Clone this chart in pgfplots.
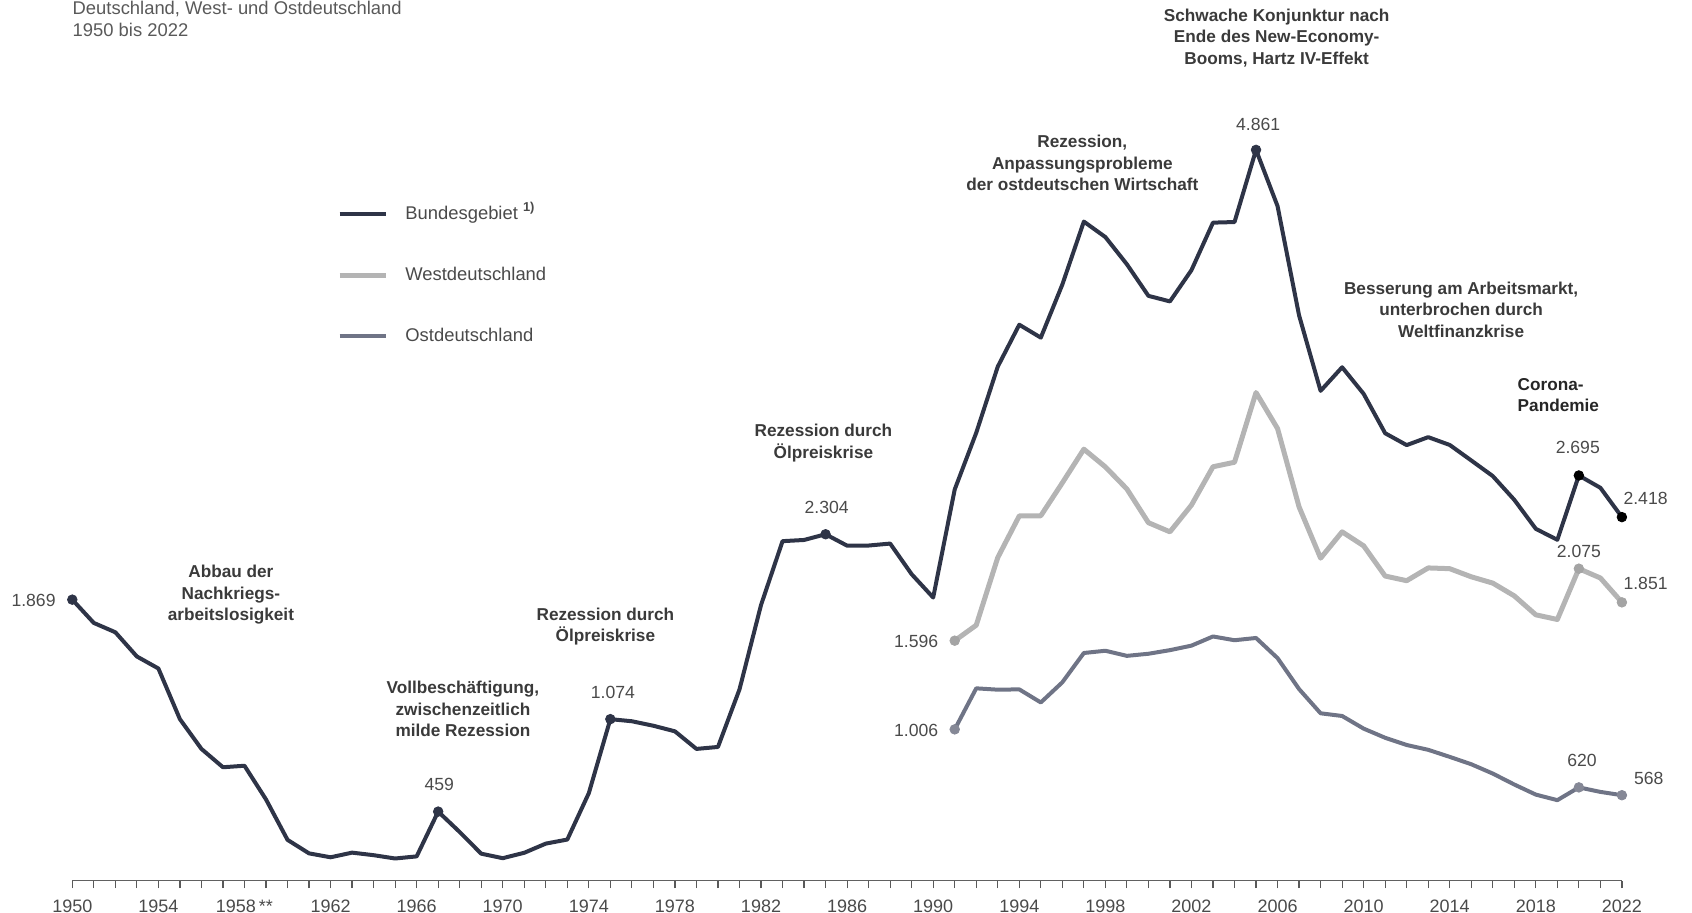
\documentclass[border=0pt]{standalone}
\usepackage{fontspec}
\setmainfont{Liberation Sans}
\usepackage{pgfplots}
\pgfplotsset{compat=1.18}

\definecolor{bund}{HTML}{2E3447}
\definecolor{west}{HTML}{B4B4B4}
\definecolor{ost}{HTML}{6F7486}
\definecolor{westdot}{HTML}{A4A4A4}
\definecolor{ostdot}{HTML}{858896}
\definecolor{txt}{HTML}{3A3A3A}
\definecolor{num}{HTML}{4A4A4A}

\newcommand{\annfont}{\bfseries\fontsize{8.6}{10.7}\selectfont}
\newcommand{\numfont}{\fontsize{8.8}{10}\selectfont}

\begin{document}
\begin{tikzpicture}
\useasboundingbox (-36.15pt,-16.2pt) rectangle (809.85pt,440.3pt);
\begin{axis}[
  scale only axis, width=774.8pt, height=375.8pt,
  xmin=1950, xmax=2022, ymin=0, ymax=5000,
  axis x line=bottom, axis y line=none,
  axis line style={draw=black!62, line width=0.7pt, -},
  xtick={1950,1954,...,2022},
  minor xtick={1950,1951,...,2022},
  xticklabels={1950,1954,1958\,**,1962,1966,1970,1974,1978,1982,1986,1990,1994,1998,2002,2006,2010,2014,2018,2022},
  tick align=outside, major tick length=3.8pt, minor tick length=3.8pt,
  every tick/.style={draw=black!65, line width=0.6pt},
  minor tick style={draw=black!65, line width=0.6pt},
  xticklabel style={font=\fontsize{9}{10}\selectfont, text=num, inner sep=1pt, yshift=-4.6pt},
  /pgf/number format/assume math mode=true,
  clip=false,
  legend cell align=left,
  legend image code/.code={\draw[#1] (0pt,0pt) -- (23pt,0pt);},
  legend style={at={(axis cs:1962.29,4495)}, anchor=north west, draw=none, fill=none,
    inner sep=0pt, row sep=21.5pt, font=\fontsize{9.2}{10}\selectfont, text=num,
    nodes={inner sep=0pt, text height=7pt, text depth=2pt},
    /tikz/every odd column/.style={column sep=8.6pt}},
]
% Bundesgebiet (1950-1990 West, from 1991 unified Germany)
\addplot[bund, line width=2pt, line join=round] coordinates {
(1950,1869) (1951,1714) (1952,1652) (1953,1491) (1954,1411) (1955,1074)
(1956,876) (1957,754) (1958,764) (1959,540) (1960,271) (1961,181)
(1962,155) (1963,186) (1964,169) (1965,147) (1966,161) (1967,459)
(1968,323) (1969,179) (1970,149) (1971,185) (1972,246) (1973,273)
(1974,582) (1975,1074) (1976,1060) (1977,1030) (1978,993) (1979,876)
(1980,889) (1981,1272) (1982,1833) (1983,2258) (1984,2266) (1985,2304)
(1986,2228) (1987,2229) (1988,2242) (1989,2038) (1990,1883) (1991,2602)
(1992,2979) (1993,3419) (1994,3698) (1995,3612) (1996,3965) (1997,4384)
(1998,4281) (1999,4100) (2000,3890) (2001,3853) (2002,4061) (2003,4377)
(2004,4381) (2005,4861) (2006,4487) (2007,3760) (2008,3258) (2009,3415)
(2010,3238) (2011,2976) (2012,2897) (2013,2950) (2014,2898) (2015,2795)
(2016,2691) (2017,2533) (2018,2340) (2019,2267) (2020,2695) (2021,2613)
(2022,2418)};
\addlegendentry{Bundesgebiet \textsuperscript{\textbf{1)}}}
% Westdeutschland
\addplot[west, line width=2.5pt, line join=round] coordinates {
(1991,1596) (1992,1699) (1993,2149) (1994,2426) (1995,2427) (1996,2646)
(1997,2870) (1998,2752) (1999,2605) (2000,2381) (2001,2320) (2002,2498)
(2003,2753) (2004,2783) (2005,3247) (2006,3007) (2007,2486) (2008,2145)
(2009,2320) (2010,2227) (2011,2026) (2012,1995) (2013,2080) (2014,2075)
(2015,2021) (2016,1979) (2017,1894) (2018,1768) (2019,1737) (2020,2075)
(2021,2013) (2022,1851)};
\addlegendentry{Westdeutschland}
% Ostdeutschland
\addplot[ost, line width=2pt, line join=round] coordinates {
(1991,1006) (1992,1279) (1993,1270) (1994,1272) (1995,1185) (1996,1319)
(1997,1514) (1998,1529) (1999,1495) (2000,1509) (2001,1533) (2002,1563)
(2003,1624) (2004,1599) (2005,1614) (2006,1480) (2007,1274) (2008,1113)
(2009,1095) (2010,1011) (2011,950) (2012,902) (2013,870) (2014,823)
(2015,774) (2016,712) (2017,639) (2018,572) (2019,535) (2020,620)
(2021,590) (2022,568)};
\addlegendentry{Ostdeutschland}

% highlighted values
\addplot[only marks, mark=*, mark size=2.4pt, bund, forget plot] coordinates {
(1950,1869) (1967,459) (1975,1074) (1985,2304) (2005,4861)};
\addplot[only marks, mark=*, mark size=2.4pt, black, forget plot] coordinates {
(2020,2695) (2022,2418)};
\addplot[only marks, mark=*, mark size=2.4pt, westdot, forget plot] coordinates {
(1991,1596) (2020,2075) (2022,1851)};
\addplot[only marks, mark=*, mark size=2.4pt, ostdot, forget plot] coordinates {
(1991,1006) (2020,620) (2022,568)};

% value labels
\begin{scope}[every node/.style={font=\numfont, text=num, inner sep=0pt}]
\node at (axis cs:1948.2,1866) {1.869};
\node at (axis cs:1967.05,639) {459};
\node at (axis cs:1975.12,1249) {1.074};
\node at (axis cs:1985.05,2484) {2.304};
\node at (axis cs:1989.21,1594) {1.596};
\node at (axis cs:1989.21,998) {1.006};
\node at (axis cs:2005.1,5032) {4.861};
\node at (axis cs:2019.95,2879) {2.695};
\node at (axis cs:2023.1,2541) {2.418};
\node at (axis cs:2020.0,2190) {2.075};
\node at (axis cs:2023.1,1974) {1.851};
\node at (axis cs:2020.15,797) {620};
\node at (axis cs:2023.25,682) {568};
\end{scope}

% annotations
\begin{scope}[every node/.style={font=\annfont, text=txt, align=center, inner sep=0pt}]
\node at (axis cs:1957.37,1902) {Abbau der\\Nachkriegs-\\arbeitslosigkeit};
\node at (axis cs:1968.15,1141) {Vollbeschäftigung,\\zwischenzeitlich\\milde Rezession};
\node at (axis cs:1974.77,1691) {Rezession durch\\Ölpreiskrise};
\node at (axis cs:1984.9,2911) {Rezession durch\\Ölpreiskrise};
\node at (axis cs:1996.93,4774) {Rezession,\\Anpassungsprobleme\\der ostdeutschen Wirtschaft};
\node at (axis cs:2005.96,5607) {Schwache Konjunktur nach\\Ende des New-Economy-\\Booms, Hartz IV-Effekt};
\node at (axis cs:2014.53,3797) {Besserung am Arbeitsmarkt,\\unterbrochen durch\\Weltfinanzkrise};
\node[align=left, anchor=west, text=black!85] at (axis cs:2017.14,3230) {Corona-\\Pandemie};
\end{scope}
\end{axis}

% subtitle lines
\node[anchor=west, inner sep=0pt, text=black!65, font=\fontsize{9.2}{10}\selectfont] at (0pt,436pt) {Deutschland, West- und Ostdeutschland};
\node[anchor=west, inner sep=0pt, text=black!65, font=\fontsize{9.2}{10}\selectfont] at (0pt,425.2pt) {1950 bis 2022};
\end{tikzpicture}
\end{document}
